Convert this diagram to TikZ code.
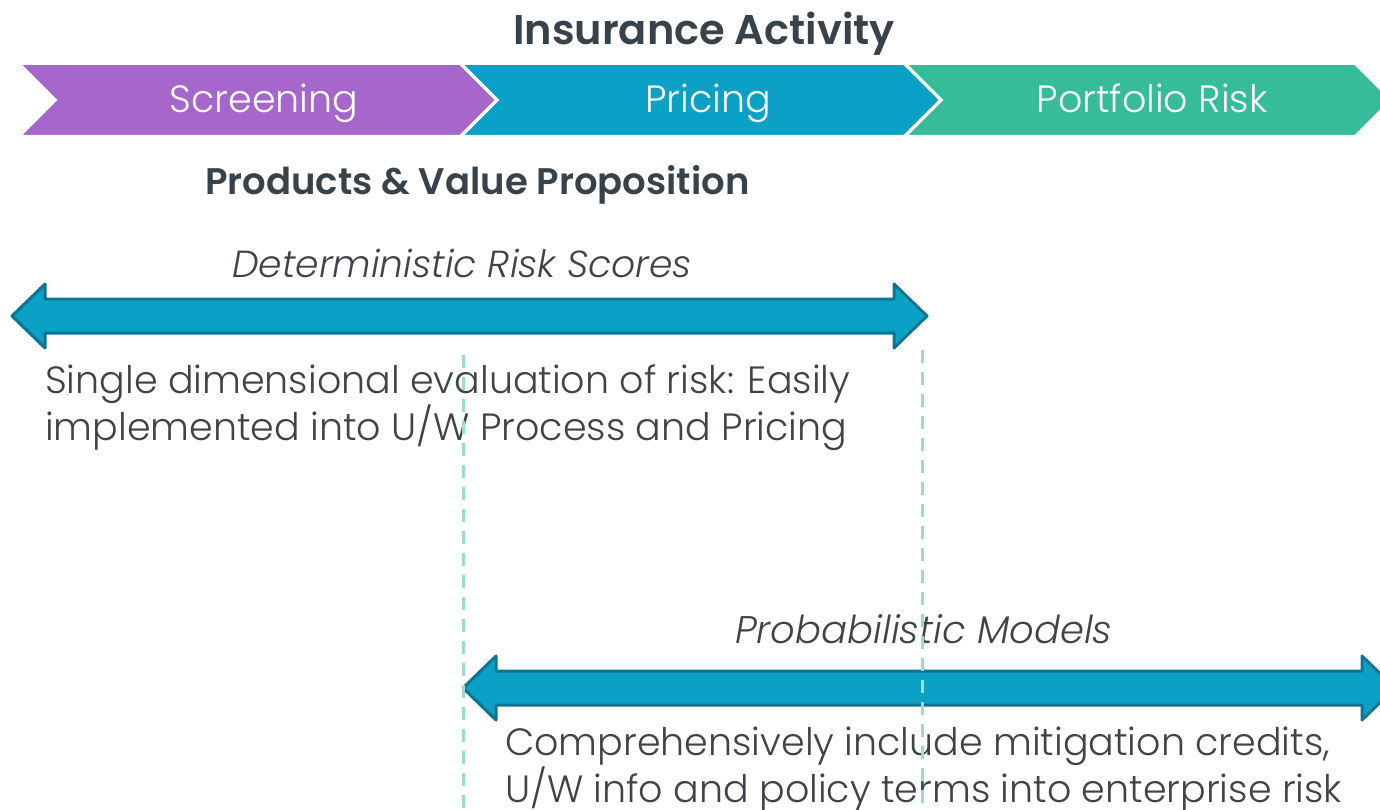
\documentclass[tikz,border=0pt]{standalone}
\usepackage{fontspec}
\setmainfont{Poppins}[UprightFont={* Light}, ItalicFont={* Light Italic}, BoldFont={* SemiBold}]
\usetikzlibrary{positioning, calc}
\definecolor{screenfill}{HTML}{A666CB}
\definecolor{pricefill}{HTML}{0BA1C6}
\definecolor{riskfill}{HTML}{36BC99}
\definecolor{arrowedge}{HTML}{0D7592}
\definecolor{darktext}{HTML}{37424A}
\definecolor{bodytext}{HTML}{404448}
\definecolor{guideline}{HTML}{9EDCCA}
\tikzset{
  chevron/.style={draw=white, line width=2pt, line join=miter},
  band/.style={font=\fontsize{38}{38}\selectfont, text=white, inner sep=0pt, anchor=base},
  heading/.style={font=\fontsize{41.5}{41.5}\selectfont\bfseries, text=darktext, inner sep=0pt},
  blockarrow/.style={fill=pricefill, draw=arrowedge, line width=3pt, line join=round},
  caption/.style={font=\fontsize{37.7}{37.7}\selectfont\itshape, text=bodytext, inner sep=0pt, anchor=base west},
  note/.style={font=\fontsize{38}{45}\selectfont, text=bodytext, align=left, inner sep=0pt, anchor=base west},
  guide/.style={draw=guideline, line width=3pt, dash pattern=on 13pt off 9pt},
}
% double block arrow: left tip x, right tip x, centre y
\newcommand{\dblarrow}[3]{%
  \filldraw[blockarrow] (#1,#3) -- (#1+33,#3-32) -- (#1+33,#3-17) -- (#2-33,#3-17)
    -- (#2-33,#3-32) -- (#2,#3) -- (#2-33,#3+32) -- (#2-33,#3+17)
    -- (#1+33,#3+17) -- (#1+33,#3+32) -- cycle;}

\begin{document}
\begin{tikzpicture}[x=1pt,y=-1pt]
  \useasboundingbox[fill=white] (0,0) rectangle (1380,810);
  \clip (0,0) rectangle (1380,810);

  % activity chevrons
  \filldraw[fill=screenfill,chevron] (20,64) -- (460,64) -- (496,100) -- (460,136) -- (20,136) -- (56,100) -- cycle;
  \filldraw[fill=pricefill,chevron] (462,64) -- (904,64) -- (940,100) -- (904,136) -- (462,136) -- (498,100) -- cycle;
  \filldraw[fill=riskfill,chevron] (906,64) -- (1355,64) -- (1391,100) -- (1355,136) -- (906,136) -- (942,100) -- cycle;
  \node[heading,anchor=base] (activity) at (704,45) {Insurance Activity};
  \node[band] (screening) at (264,113) {Screening};
  \node[band] (pricing) at (708,113) {Pricing};
  \node[band] (portfolio) at (1152,113) {Portfolio Risk};

  \node[heading,font=\fontsize{37}{37}\selectfont\bfseries,anchor=base west] (products) at (205,195) {Products \& Value Proposition};

  % deterministic scores
  \dblarrow{12}{927}{316}
  \node[caption] (detlabel) at (232,277) {Deterministic Risk Scores};
  \node[note] (detnote) at (45,440) {Single dimensional evaluation of risk: Easily\\implemented into U/W Process and Pricing};

  % probabilistic models
  \dblarrow{463}{1395}{688}
  \node[caption,font=\fontsize{38.5}{38.5}\selectfont\itshape] (problabel) at (735,643) {Probabilistic Models};
  \node[note] (probnote) at (505,802) {Comprehensively include mitigation credits,\\U/W info and policy terms into enterprise risk};

  % pricing window guides
  \draw[guide] (463,355) -- (463,810);
  \draw[guide] (922,350) -- (922,810);
\end{tikzpicture}
\end{document}
